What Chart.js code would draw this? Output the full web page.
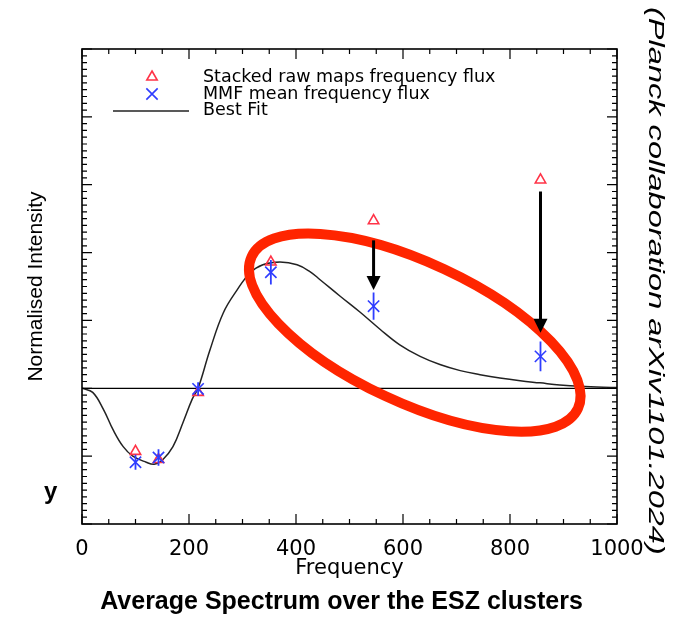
<!DOCTYPE html>
<html>
<head>
<meta charset="utf-8">
<script src="https://cdn.jsdelivr.net/npm/chart.js@4.4.1/dist/chart.umd.min.js"></script>
<style>
  html, body { margin: 0; padding: 0; background: #fff; }
  #wrap { position: relative; width: 691px; height: 619px; overflow: hidden; }
  #side {
    position: absolute; left: 667px; top: 7px;
    font: italic 22px "Liberation Sans", Arial, sans-serif; line-height: 22px;
    white-space: nowrap; color: #000;
    transform-origin: 0 0; transform: rotate(90deg) scaleX(1.48);
  }
  #frag { position: absolute; left: 44px; top: 477px; font: bold 24px "Liberation Sans", Arial, sans-serif; color: #000; }
  #title {
    position: absolute; left: 0; top: 588px; width: 683px; text-align: center;
    font: bold 25px "Liberation Sans", Arial, sans-serif; line-height: 25px; color: #000; white-space: nowrap;
  }
</style>
</head>
<body>
<div id="wrap">
  <canvas id="chart" width="691" height="619"></canvas>
  <div id="side">(Planck collaboration arXiv1101.2024)</div>
  <div id="frag">y</div>
  <div id="title">Average Spectrum over the ESZ clusters</div>
</div>
<script>
// Planck channels (GHz)
const freqs = [100, 143, 217, 353, 545, 857];
const rawFlux = [-0.93, -1.05, -0.06, 1.86, 2.47, 3.07];
const mmfFlux = [-1.09, -1.02, -0.01, 1.71, 1.21, 0.47];
const mmfError = [0.11, 0.12, 0.10, 0.18, 0.20, 0.22];

// best fit curve
const fitFreq = [0, 20, 40, 58, 77, 95, 120, 135, 150, 170, 189, 206, 217, 239, 264, 290, 314, 338, 370,
  402, 426, 445, 482, 520, 557, 594, 632, 669, 707, 744, 781, 819, 856, 893, 931, 1000];
const fitFlux = [0, -0.06, -0.31, -0.61, -0.86, -1.00, -1.09, -1.12, -1.06, -0.86, -0.50, -0.16, 0, 0.56, 1.11, 1.45, 1.70, 1.82, 1.86,
  1.82, 1.72, 1.60, 1.36, 1.12, 0.87, 0.64, 0.47, 0.35, 0.26, 0.20, 0.15, 0.11, 0.08, 0.05, 0.03, 0.01];

const xTicks = [0, 200, 400, 600, 800, 1000];

// arrows: from raw flux down to the MMF flux
const arrowFreq = [545, 857];
const arrowFrom = [2.18, 2.90];
const arrowTo = [1.45, 0.82];

const RED = '#ff3347';
const BLUE = '#2f3dff';

const frame = {
  id: 'frame',
  afterDraw(chart) {
    const { ctx, chartArea: a, scales: { x, y } } = chart;
    ctx.save();
    ctx.strokeStyle = '#000';
    ctx.lineWidth = 1.2;
    ctx.beginPath();
    for (let v = 0; v <= 1000; v += 50) {
      const px = x.getPixelForValue(v);
      const len = v % 200 === 0 ? 10 : 5;
      ctx.moveTo(px, a.bottom); ctx.lineTo(px, a.bottom - len);
      ctx.moveTo(px, a.top); ctx.lineTo(px, a.top + len);
    }
    for (let i = -20; i <= 50; i++) {
      const py = y.getPixelForValue(i / 10);
      const len = i % 10 === 0 ? 10 : 5;
      ctx.moveTo(a.left, py); ctx.lineTo(a.left + len, py);
      ctx.moveTo(a.right, py); ctx.lineTo(a.right - len, py);
    }
    ctx.stroke();
    ctx.lineWidth = 1.6;
    ctx.strokeRect(a.left, a.top, a.right - a.left, a.bottom - a.top);
    ctx.restore();
  }
};

const extras = {
  id: 'extras',
  afterDatasetsDraw(chart) {
    const { ctx, scales: { x, y } } = chart;
    ctx.save();
    // error bars
    ctx.strokeStyle = BLUE;
    ctx.lineWidth = 1.8;
    ctx.beginPath();
    freqs.forEach((f, i) => {
      const px = x.getPixelForValue(f);
      ctx.moveTo(px, y.getPixelForValue(mmfFlux[i] + mmfError[i]));
      ctx.lineTo(px, y.getPixelForValue(mmfFlux[i] - mmfError[i]));
    });
    ctx.stroke();

    // red ring
    ctx.strokeStyle = '#ff2500';
    ctx.lineWidth = 10;
    ctx.beginPath();
    ctx.ellipse(x.getPixelForValue(622), y.getPixelForValue(0.82), 180, 70, 25 * Math.PI / 180, 0, Math.PI * 2);
    ctx.stroke();

    // arrows
    ctx.strokeStyle = '#000';
    ctx.fillStyle = '#000';
    ctx.lineWidth = 3;
    arrowFreq.forEach((f, i) => {
      const px = x.getPixelForValue(f);
      const y1 = y.getPixelForValue(arrowFrom[i]);
      const y2 = y.getPixelForValue(arrowTo[i]);
      ctx.beginPath();
      ctx.moveTo(px, y1);
      ctx.lineTo(px, y2 - 12);
      ctx.stroke();
      ctx.beginPath();
      ctx.moveTo(px - 7, y2 - 14);
      ctx.lineTo(px + 7, y2 - 14);
      ctx.lineTo(px, y2);
      ctx.closePath();
      ctx.fill();
    });
    ctx.restore();
  }
};

const keyBox = {
  id: 'keyBox',
  afterDraw(chart) {
    const ctx = chart.ctx;
    const ds = chart.data.datasets;
    ctx.save();
    ctx.fillStyle = 'rgba(0,0,0,0)';
    ctx.lineWidth = 1.6;
    ctx.strokeStyle = RED;
    Chart.helpers.drawPoint(ctx, { pointStyle: 'triangle', radius: 6, rotation: 0, borderWidth: 1.6 }, 152, 77);
    ctx.strokeStyle = BLUE;
    Chart.helpers.drawPoint(ctx, { pointStyle: 'crossRot', radius: 8, rotation: 0, borderWidth: 1.6 }, 152, 94);
    ctx.strokeStyle = '#222';
    ctx.lineWidth = 1.4;
    ctx.beginPath();
    ctx.moveTo(113, 111); ctx.lineTo(189, 111);
    ctx.stroke();
    ctx.font = '17.5px "DejaVu Sans"';
    ctx.fillStyle = '#000';
    ctx.textBaseline = 'middle';
    ctx.textAlign = 'left';
    ctx.fillText(ds[2].label, 203, 77);
    ctx.fillText(ds[3].label, 203, 94);
    ctx.fillText(ds[0].label, 203, 110);
    ctx.restore();
  }
};

new Chart(document.getElementById('chart').getContext('2d'), {
  type: 'scatter',
  data: {
    datasets: [
      {
        type: 'line',
        label: 'Best Fit',
        data: fitFreq.map((f, i) => ({ x: f, y: fitFlux[i] })),
        borderColor: '#222',
        borderWidth: 1.5,
        pointRadius: 0,
        tension: 0.4,
        order: 3
      },
      {
        type: 'line',
        label: 'zero',
        data: [{ x: 0, y: 0 }, { x: 1000, y: 0 }],
        borderColor: '#000',
        borderWidth: 1.3,
        pointRadius: 0,
        order: 4
      },
      {
        label: 'Stacked raw maps frequency flux',
        data: freqs.map((f, i) => ({ x: f, y: rawFlux[i] })),
        pointStyle: 'triangle',
        pointRadius: 6,
        borderColor: RED,
        backgroundColor: 'rgba(0,0,0,0)',
        borderWidth: 1.6,
        order: 2
      },
      {
        label: 'MMF mean frequency flux',
        data: freqs.map((f, i) => ({ x: f, y: mmfFlux[i] })),
        pointStyle: 'crossRot',
        pointRadius: 8,
        borderColor: BLUE,
        backgroundColor: BLUE,
        borderWidth: 1.6,
        order: 1
      }
    ]
  },
  options: {
    responsive: false,
    animation: false,
    layout: { padding: { top: 49, right: 74, left: 0, bottom: 0 } },
    plugins: {
      legend: { display: false },
      tooltip: { enabled: false },
      title: { display: false }
    },
    scales: {
      x: {
        type: 'linear',
        min: 0,
        max: 1000,
        grid: { display: false, drawTicks: false },
        border: { display: false },
        afterBuildTicks: s => { s.ticks = xTicks.map(v => ({ value: v })); },
        ticks: {
          color: '#000', font: { family: '"DejaVu Sans"', size: 21 }, padding: 13, maxRotation: 0, autoSkip: false,
          callback: v => String(v)
        },
        title: { display: true, text: 'Frequency', color: '#000', font: { family: '"DejaVu Sans"', size: 21 }, padding: { top: 4, bottom: 38 } },
        afterFit: s => { s.height = 95; }
      },
      y: {
        min: -2,
        max: 5,
        grid: { display: false, drawTicks: false },
        border: { display: false },
        ticks: { display: false },
        title: { display: true, text: 'Normalised Intensity', color: '#000', font: { family: '"Liberation Sans"', size: 21 }, padding: { top: 24, bottom: 24 } },
        afterFit: s => { s.width = 82; }
      }
    }
  },
  plugins: [frame, extras, keyBox]
});
</script>
</body>
</html>
